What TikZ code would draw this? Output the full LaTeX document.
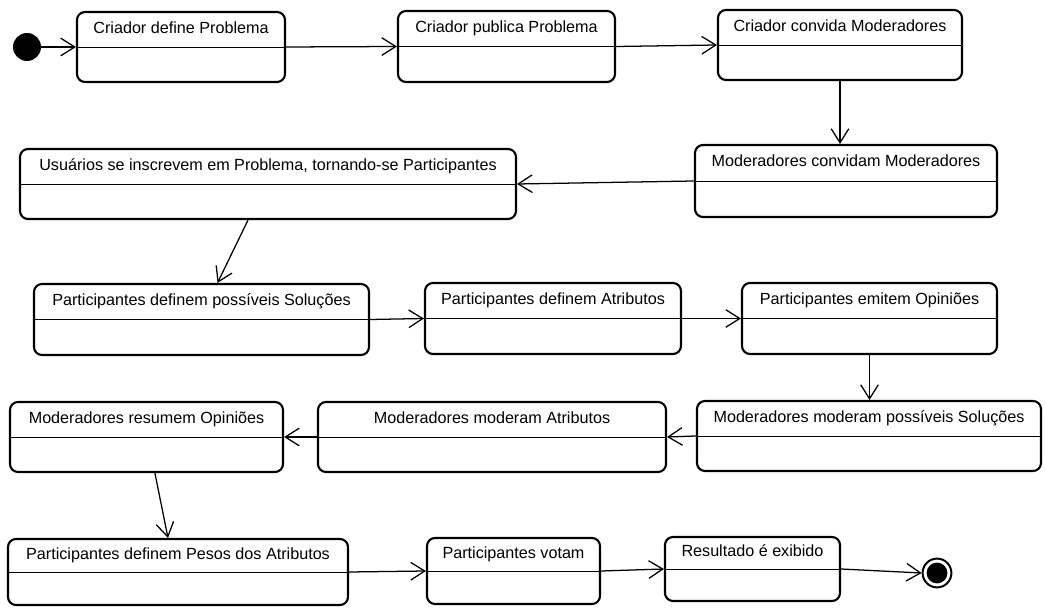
\documentclass[tikz,border=0pt]{standalone}
\usepackage{fontspec}
\setmainfont{Liberation Sans}
\usetikzlibrary{arrows.meta,calc,positioning}

\tikzset{
  estado/.style={draw=black, line width=1.5pt, rounded corners=0.2cm, inner sep=0pt},
  rotulo/.style={inner sep=0pt, text height=1.6ex, text depth=0.4ex, font=\fontsize{11.5}{13}\selectfont},
  divisa/.style={black, line width=0.7pt},
  flecha/.style={black, line width=0.9pt, -{Straight Barb[length=3.5mm,width=4.4mm,line width=0.9pt]}},
}

\begin{document}
\begin{tikzpicture}

\useasboundingbox (0,0) rectangle (26.125,-15.225);

% Inicio
\node[circle, fill=black, minimum size=0.7cm, inner sep=0pt] (inicio) at (0.675,-1.175) {};

% Linha 1
\node[estado, minimum width=5.2cm, minimum height=1.75cm] (criaDefine) at (4.525,-1.175) {};
\node[rotulo] (criaDefineTxt) at ($(criaDefine.north)!0.5!(criaDefine.center)$) {Criador define Problema};
\draw[divisa] (criaDefine.west) -- (criaDefine.east);

\node[estado, minimum width=5.425cm, minimum height=1.775cm] (criaPublica) at (12.6625,-1.1625) {};
\node[rotulo] (criaPublicaTxt) at ($(criaPublica.north)!0.5!(criaPublica.center)$) {Criador publica Problema};
\draw[divisa] (criaPublica.west) -- (criaPublica.east);

\node[estado, minimum width=6.1cm, minimum height=1.75cm] (criaConvida) at (21.0,-1.125) {};
\node[rotulo] (criaConvidaTxt) at ($(criaConvida.north)!0.5!(criaConvida.center)$) {Criador convida Moderadores};
\draw[divisa] (criaConvida.west) -- (criaConvida.east);

% Linha 2
\node[estado, minimum width=7.55cm, minimum height=1.8cm] (modConvidam) at (21.15,-4.525) {};
\node[rotulo] (modConvidamTxt) at ($(modConvidam.north)!0.5!(modConvidam.center)$) {Moderadores convidam Moderadores};
\draw[divisa] (modConvidam.west) -- (modConvidam.east);

\node[estado, minimum width=12.4cm, minimum height=1.75cm] (usrInscrevem) at (6.7,-4.6) {};
\node[rotulo] (usrInscrevemTxt) at ($(usrInscrevem.north)!0.5!(usrInscrevem.center)$) {Usuários se inscrevem em Problema, tornando-se Participantes};
\draw[divisa] (usrInscrevem.west) -- (usrInscrevem.east);

% Linha 3
\node[estado, minimum width=8.375cm, minimum height=1.775cm] (partSolucoes) at (5.0375,-7.9875) {};
\node[rotulo] (partSolucoesTxt) at ($(partSolucoes.north)!0.5!(partSolucoes.center)$) {Participantes definem possíveis Soluções};
\draw[divisa] (partSolucoes.west) -- (partSolucoes.east);

\node[estado, minimum width=6.4cm, minimum height=1.775cm] (partAtributos) at (13.825,-7.9625) {};
\node[rotulo] (partAtributosTxt) at ($(partAtributos.north)!0.5!(partAtributos.center)$) {Participantes definem Atributos};
\draw[divisa] (partAtributos.west) -- (partAtributos.east);

\node[estado, minimum width=6.375cm, minimum height=1.775cm] (partOpinioes) at (21.7375,-7.9625) {};
\node[rotulo] (partOpinioesTxt) at ($(partOpinioes.north)!0.5!(partOpinioes.center)$) {Participantes emitem Opiniões};
\draw[divisa] (partOpinioes.west) -- (partOpinioes.east);

% Linha 4
\node[estado, minimum width=8.6cm, minimum height=1.75cm] (modSolucoes) at (21.725,-10.9) {};
\node[rotulo] (modSolucoesTxt) at ($(modSolucoes.north)!0.5!(modSolucoes.center)$) {Moderadores moderam possíveis Soluções};
\draw[divisa] (modSolucoes.west) -- (modSolucoes.east);

\node[estado, minimum width=8.7cm, minimum height=1.75cm] (modAtributos) at (12.3,-10.925) {};
\node[rotulo] (modAtributosTxt) at ($(modAtributos.north)!0.5!(modAtributos.center)$) {Moderadores moderam Atributos};
\draw[divisa] (modAtributos.west) -- (modAtributos.east);

\node[estado, minimum width=6.825cm, minimum height=1.75cm] (modResumem) at (3.6625,-10.925) {};
\node[rotulo] (modResumemTxt) at ($(modResumem.north)!0.5!(modResumem.center)$) {Moderadores resumem Opiniões};
\draw[divisa] (modResumem.west) -- (modResumem.east);

% Linha 5
\node[estado, minimum width=8.5cm, minimum height=1.65cm] (partPesos) at (4.45,-14.3) {};
\node[rotulo] (partPesosTxt) at ($(partPesos.north)!0.5!(partPesos.center)$) {Participantes definem Pesos dos Atributos};
\draw[divisa] (partPesos.west) -- (partPesos.east);

\node[estado, minimum width=4.325cm, minimum height=1.65cm] (partVotam) at (12.8375,-14.275) {};
\node[rotulo] (partVotamTxt) at ($(partVotam.north)!0.5!(partVotam.center)$) {Participantes votam};
\draw[divisa] (partVotam.west) -- (partVotam.east);

\node[estado, minimum width=4.375cm, minimum height=1.6cm] (resultado) at (18.8125,-14.225) {};
\node[rotulo] (resultadoTxt) at ($(resultado.north)!0.5!(resultado.center)$) {Resultado é exibido};
\draw[divisa] (resultado.west) -- (resultado.east);

% Fim
\node[circle, draw=black, line width=1.4pt, minimum size=0.72cm, inner sep=0pt] (fim) at (23.425,-14.325) {};
\fill[black] (fim) circle (0.26cm);

% Transicoes
\draw[flecha] (inicio) -- (criaDefine.west);
\draw[flecha] (criaDefine.east) -- (criaPublica.west);
\draw[flecha] (criaPublica.east) -- (criaConvida.west);
\draw[flecha] (criaConvida.south) -- (criaConvida.south |- modConvidam.north);
\draw[flecha] (modConvidam.west) -- (usrInscrevem.east);
\draw[flecha] ([xshift=-0.5cm]usrInscrevem.south) -- ([xshift=0.4cm]partSolucoes.north);
\draw[flecha] (partSolucoes.east) -- (partAtributos.west);
\draw[flecha] (partAtributos.east) -- (partOpinioes.west);
\draw[flecha] (partOpinioes.south) -- (partOpinioes.south |- modSolucoes.north);
\draw[flecha] (modSolucoes.west) -- (modAtributos.east);
\draw[flecha] (modAtributos.west) -- (modResumem.east);
\draw[flecha] ([xshift=0.21cm]modResumem.south) -- ([xshift=-0.25cm]partPesos.north);
\draw[flecha] (partPesos.east) -- (partVotam.west);
\draw[flecha] (partVotam.east) -- (resultado.west);
\draw[flecha] (resultado.east) -- (fim.west);

\end{tikzpicture}
\end{document}
